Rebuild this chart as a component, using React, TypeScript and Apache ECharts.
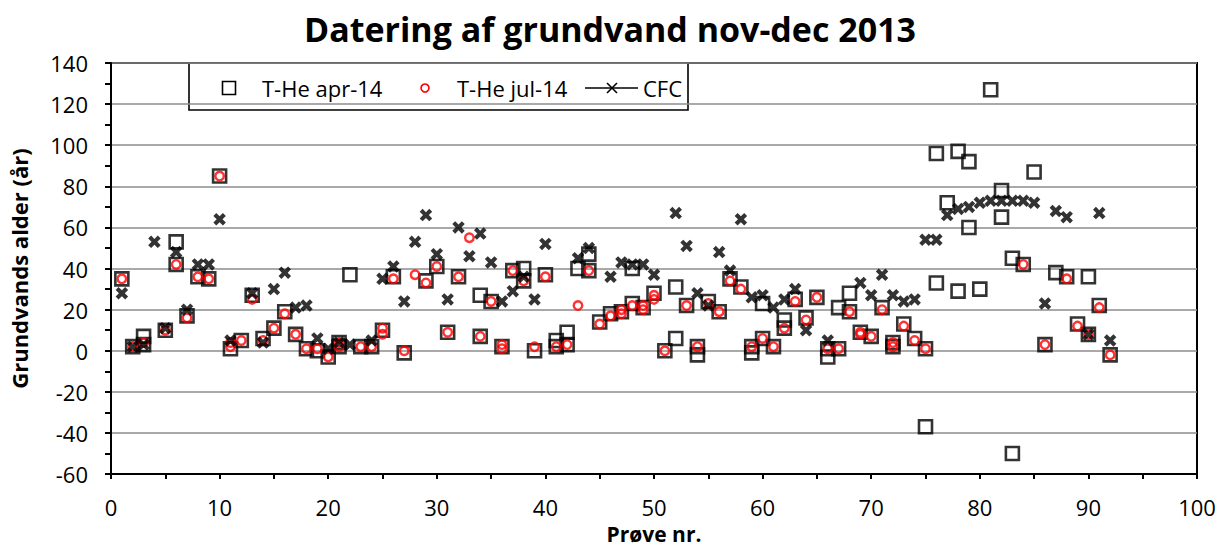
import React, { useEffect, useRef } from "react";
import * as echarts from "echarts";

const chartTitle = "Datering af grundvand nov-dec 2013";
const xAxisName = "Prøve nr.";
const yAxisName = "Grundvands alder (år)";
const seriesNames = ["T-He apr-14", "T-He jul-14", "CFC"];

// [sample no., age (years)]
const tHeApr: [number, number][] = [
  [1, 35], [2, 2], [3, 7], [3, 3], [5, 10], [6, 53], [6, 42], [7, 17], [8, 36], [9, 35],
  [10, 85], [11, 1], [12, 5], [13, 27], [14, 6], [15, 11], [16, 19], [17, 8], [18, 1], [19, 0],
  [20, -3], [21, 4], [21, 2], [22, 37], [23, 2], [24, 2], [25, 10], [26, 36], [27, -1], [29, 34],
  [30, 41], [31, 9], [32, 36], [34, 27], [34, 7], [35, 24], [36, 2], [37, 39], [38, 40], [38, 34],
  [39, 0], [40, 37], [41, 5], [41, 2], [42, 9], [42, 3], [43, 40], [44, 47], [44, 39], [45, 14],
  [46, 18], [47, 19], [48, 40], [48, 23], [49, 21], [50, 28], [51, 0], [52, 31], [52, 6], [53, 22],
  [54, -2], [54, 2], [55, 24], [56, 19], [57, 35], [58, 31], [59, -1], [59, 2], [60, 23], [60, 6],
  [61, 2], [62, 15], [62, 11], [63, 25], [64, 16], [65, 26], [66, -3], [66, 1], [67, 21], [67, 1],
  [68, 28], [68, 19], [69, 9], [70, 7], [71, 21], [72, 4], [72, 2], [73, 13], [74, 6], [75, 1],
  [75, -37], [76, 96], [76, 33], [77, 72], [78, 97], [78, 29], [79, 92], [79, 60], [80, 30], [81, 127],
  [82, 78], [82, 65], [83, 45], [83, -50], [84, 42], [85, 87], [86, 3], [87, 38], [88, 36], [89, 13],
  [90, 36], [90, 8], [91, 22], [92, -2],
];

const tHeJul: [number, number][] = [
  [1, 35], [2, 2], [3, 4], [5, 10], [6, 42], [7, 16], [8, 36], [9, 35], [10, 85], [11, 4],
  [11, 2], [12, 5], [13, 25], [14, 5], [15, 11], [16, 18], [17, 8], [18, 1], [19, 1], [20, -3],
  [21, 4], [21, 2], [23, 2], [24, 2], [25, 11], [25, 8], [26, 35], [27, 0], [28, 37], [29, 33],
  [30, 41], [31, 9], [32, 36], [33, 55], [34, 7], [35, 24], [36, 3], [36, 1], [37, 39], [38, 34],
  [39, 2], [40, 36], [41, 2], [42, 3], [43, 22], [44, 39], [45, 13], [46, 17], [47, 20], [47, 18],
  [48, 22], [49, 22], [49, 20], [50, 27], [50, 25], [51, 0], [53, 22], [54, 2], [55, 23], [56, 19],
  [57, 34], [58, 30], [59, 2], [60, 6], [61, 2], [62, 11], [63, 24], [64, 15], [65, 26], [66, 1],
  [67, 1], [68, 19], [69, 9], [69, 8], [70, 7], [71, 20], [72, 4], [72, 2], [73, 12], [74, 5],
  [75, 1], [84, 42], [86, 3], [88, 35], [89, 12], [90, 8], [91, 21], [92, -2],
];

const cfc: [number, number][] = [
  [1, 28], [2, 2], [3, 3], [4, 53], [5, 11], [6, 48], [7, 20], [8, 42], [9, 42], [10, 64],
  [11, 5], [13, 28], [14, 4], [15, 30], [16, 38], [17, 21], [18, 22], [19, 6], [20, 1], [21, 4],
  [22, 3], [24, 5], [25, 35], [26, 41], [27, 24], [28, 53], [29, 66], [30, 47], [31, 25], [32, 60],
  [33, 46], [34, 57], [35, 43], [36, 24], [37, 29], [38, 36], [39, 25], [40, 52], [43, 45], [44, 50],
  [46, 36], [47, 43], [48, 42], [49, 42], [50, 37], [52, 67], [53, 51], [54, 28], [55, 22], [56, 48],
  [57, 39], [58, 64], [59, 26], [60, 27], [61, 21], [62, 25], [63, 30], [64, 10], [66, 5], [69, 33],
  [70, 27], [71, 37], [72, 27], [73, 24], [74, 25], [75, 54], [76, 54], [77, 66], [78, 69], [79, 70],
  [80, 72], [81, 73], [82, 73], [83, 73], [84, 73], [85, 72], [86, 23], [87, 68], [88, 65], [90, 8],
  [91, 67], [92, 5],
];

const xMin = 0, xMax = 100, xStep = 10;
const yMin = -60, yMax = 140, yStep = 20;

const FONT = "'Open Sans', 'Noto Sans', sans-serif";
const CROSS =
  "path://M0,2.8 L2.8,0 L6,3.2 L9.2,0 L12,2.8 L8.8,6 L12,9.2 L9.2,12 L6,8.8 L2.8,12 L0,9.2 L3.2,6 Z";

export default function App() {
  const ref = useRef<HTMLDivElement>(null);
  useEffect(() => {
    if (!ref.current) return;
    const chart = echarts.init(ref.current, null, { renderer: "svg" });
    const ly = 88;
    const legendText = (x: number, text: string) => ({
      type: "text",
      x,
      y: ly,
      style: {
        text,
        fontFamily: FONT,
        fontSize: 22,
        fill: "#000",
        verticalAlign: "middle",
      },
    });
    chart.setOption({
      animation: false,
      backgroundColor: "#ffffff",
      title: {
        text: chartTitle,
        left: "center",
        top: 7,
        textStyle: { fontFamily: FONT, fontSize: 34, fontWeight: "bold", color: "#000" },
      },
      grid: {
        left: 107,
        right: 23,
        top: 63,
        bottom: 64,
        show: true,
        borderColor: "#000",
        borderWidth: 2,
        containLabel: false,
      },
      xAxis: {
        type: "value",
        min: xMin,
        max: xMax,
        interval: xStep,
        name: xAxisName,
        nameLocation: "middle",
        nameGap: 48,
        nameTextStyle: { fontFamily: FONT, fontSize: 21, fontWeight: "bold", color: "#000" },
        axisLine: { show: true, onZero: false, lineStyle: { color: "#000", width: 2 } },
        axisTick: { show: true, inside: false, length: 5, lineStyle: { color: "#000", width: 2 } },
        minorTick: { show: true, splitNumber: 2, length: 5, lineStyle: { color: "#000", width: 2 } },
        splitLine: { show: false },
        axisLabel: { fontFamily: FONT, fontSize: 22, color: "#000", margin: 22 },
      },
      yAxis: {
        type: "value",
        min: yMin,
        max: yMax,
        interval: yStep,
        name: yAxisName,
        nameLocation: "middle",
        nameGap: 81,
        nameTextStyle: { fontFamily: FONT, fontSize: 22, fontWeight: "bold", color: "#000" },
        axisLine: { show: true, onZero: false, lineStyle: { color: "#000", width: 2 } },
        axisTick: { show: true, inside: false, length: 6, lineStyle: { color: "#000", width: 2 } },
        minorTick: { show: true, splitNumber: 2, length: 6, lineStyle: { color: "#000", width: 2 } },
        splitLine: { show: true, lineStyle: { color: "#8c8c8c", width: 1.6 } },
        axisLabel: { fontFamily: FONT, fontSize: 22, color: "#000", margin: 23 },
      },
      series: [
        {
          name: seriesNames[0],
          type: "scatter",
          data: tHeApr,
          symbol: "rect",
          symbolSize: 13,
          itemStyle: { color: "rgba(0,0,0,0)", borderColor: "#000", borderWidth: 2.6 },
          z: 2,
        },
        {
          name: seriesNames[1],
          type: "scatter",
          data: tHeJul,
          symbol: "circle",
          symbolSize: 8.5,
          itemStyle: { color: "rgba(0,0,0,0)", borderColor: "#ff0000", borderWidth: 2.4 },
          z: 3,
        },
        {
          name: seriesNames[2],
          type: "scatter",
          data: cfc,
          symbol: CROSS,
          symbolSize: 12.5,
          itemStyle: { color: "#000" },
          z: 4,
        },
      ],
      graphic: [
        {
          type: "group",
          z: 100,
          children: [
            {
              type: "rect",
              shape: { x: 189, y: 63, width: 499, height: 47 },
              style: { fill: "#fff", stroke: "#000", lineWidth: 1.6 },
            },
            {
              type: "rect",
              shape: { x: 222.5, y: ly - 6.5, width: 13, height: 13 },
              style: { fill: "none", stroke: "#000", lineWidth: 1.6 },
            },
            legendText(262, seriesNames[0]),
            {
              type: "circle",
              shape: { cx: 425, cy: ly, r: 4 },
              style: { fill: "none", stroke: "#ff0000", lineWidth: 1.6 },
            },
            legendText(457, seriesNames[1]),
            {
              type: "line",
              shape: { x1: 585, y1: ly, x2: 638, y2: ly },
              style: { stroke: "#000", lineWidth: 1.6 },
            },
            {
              type: "line",
              shape: { x1: 607, y1: ly - 5, x2: 617, y2: ly + 5 },
              style: { stroke: "#000", lineWidth: 1.6 },
            },
            {
              type: "line",
              shape: { x1: 607, y1: ly + 5, x2: 617, y2: ly - 5 },
              style: { stroke: "#000", lineWidth: 1.6 },
            },
            legendText(643, seriesNames[2]),
          ],
        },
      ],
    });
    return () => chart.dispose();
  }, []);
  return (
    <div
      ref={ref}
      style={{ position: "fixed", left: 0, top: 0, width: 1220, height: 549, background: "#fff" }}
    />
  );
}
